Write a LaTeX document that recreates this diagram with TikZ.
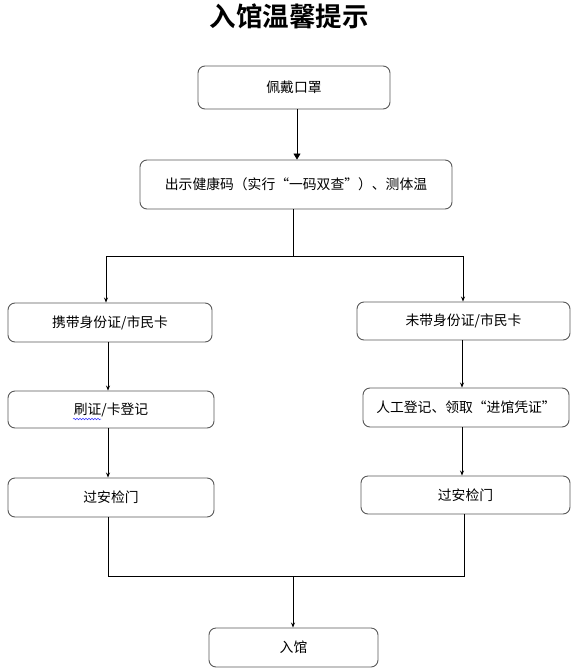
\documentclass[tikz,border=0pt]{standalone}
\usepackage{fontspec}
\setmainfont{Noto Sans CJK SC}
\newfontfamily\cjkbold{Noto Sans CJK SC Bold}
\usetikzlibrary{arrows.meta,calc,decorations.pathmorphing}
\begin{document}
\begin{tikzpicture}[x=1pt,y=-1pt,
  box/.style={draw=black!65,line width=0.9pt,rounded corners=7pt,fill=white,
    inner sep=0pt,font=\fontsize{13.8}{16}\selectfont},
  conn/.style={draw=black,line width=0.8pt},
  arr/.style={conn,-{Stealth[length=5pt,width=4pt]}},
  bigarr/.style={conn,-{Triangle[length=6pt,width=7pt]}}]
\useasboundingbox[fill=white] (0,0) rectangle (576,672);
\node[font=\cjkbold\fontsize{26.5}{30}\selectfont] (title) at (289,16) {入馆温馨提示};
\node[box,minimum width=192pt,minimum height=43pt] (b1) at (294,87.5) {佩戴口罩};
\node[box,minimum width=312pt,minimum height=49pt] (b2) at (296,184.5) {出示健康码（实行“一码双查”）、测体温};
\node[box,minimum width=204pt,minimum height=39pt] (l1) at (110,322.5) {携带身份证/市民卡};
\node[box,minimum width=213pt,minimum height=38pt] (r1) at (463.5,321) {未带身份证/市民卡};
\node[box,minimum width=206pt,minimum height=37pt] (l2) at (111,409.5) {刷证/卡登记};
\node[box,minimum width=206pt,minimum height=39pt] (r2) at (466,407.5) {人工登记、领取“进馆凭证”};
\node[box,minimum width=206pt,minimum height=39pt] (l3) at (111,497.5) {过安检门};
\node[box,minimum width=209pt,minimum height=38pt] (r3) at (465.5,495) {过安检门};
\node[box,minimum width=169pt,minimum height=39pt] (e) at (293.5,647.5) {入馆};
% spell-check underline
\draw[blue!80,line width=0.5pt,decorate,decoration={snake,amplitude=0.8pt,segment length=3pt}]
  (73,419) -- (101,419);
% connectors
\coordinate (top1) at (297,109);
\draw[bigarr] (top1) -- (top1 |- b2.north);
\coordinate (split) at (293,256);
\coordinate (sl) at (106,256);
\coordinate (sr) at (463,256);
\draw[conn] (split |- b2.south) -- (split);
\draw[conn] (sl) -- (sr);
\draw[arr] (sl) -- (sl |- l1.north);
\draw[arr] (sr) -- (sr |- r1.north);
\coordinate (lx) at (108,0);
\coordinate (rx) at (462,0);
\draw[arr] (lx |- l1.south) -- (lx |- l2.north);
\draw[arr] (rx |- r1.south) -- (rx |- r2.north);
\draw[arr] (lx |- l2.south) -- (lx |- l3.north);
\draw[arr] (rx |- r2.south) -- (rx |- r3.north);
\coordinate (jl) at (108,576);
\coordinate (jr) at (464,576);
\coordinate (jm) at (293,576);
\draw[conn] (jl |- l3.south) -- (jl) -- (jr) -- (jr |- r3.south);
\draw[arr] (jm) -- (jm |- e.north);
\end{tikzpicture}
\end{document}
